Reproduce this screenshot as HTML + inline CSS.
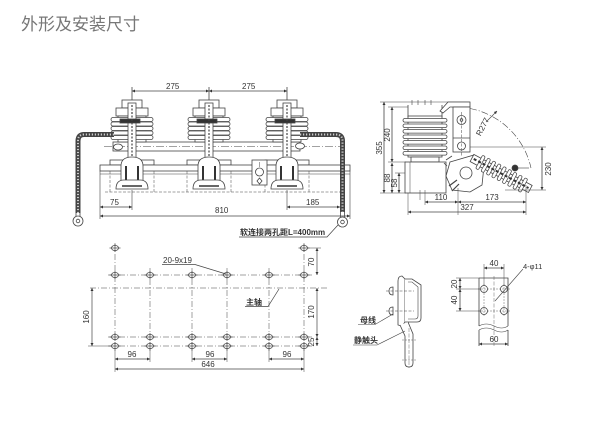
<!DOCTYPE html>
<html><head><meta charset="utf-8"><style>
html,body{margin:0;padding:0;background:#fff;}
svg{display:block;}
text{font-family:"Liberation Sans","Noto Sans CJK SC",sans-serif;fill:#333;}
</style></head><body>
<svg width="600" height="436" viewBox="0 0 600 436" xmlns="http://www.w3.org/2000/svg">
<defs>
<marker id="a" viewBox="0 0 10 10" refX="10" refY="5" markerUnits="userSpaceOnUse" markerWidth="5" markerHeight="3" orient="auto-start-reverse"><path d="M0 0L10 5L0 10z" fill="#333"/></marker>
<g id="pole" stroke="#444" stroke-width="0.8" fill="#fff">
 <rect x="-10" y="100" width="20" height="8"/>
 <rect x="-16" y="108" width="32" height="8"/>
 <rect x="-14" y="116" width="28" height="26"/>
 <rect x="-21" y="117.5" width="42" height="4" rx="2"/>
 <rect x="-21" y="122" width="42" height="4" rx="2"/>
 <rect x="-21" y="126.5" width="42" height="4" rx="2"/>
 <rect x="-21" y="131" width="42" height="4" rx="2"/>
 <rect x="-21" y="135.5" width="42" height="4" rx="2"/>
 <rect x="-4" y="103" width="8" height="56"/>
 <rect x="-12" y="119" width="20" height="4" fill="#333"/>
 <line x1="0" y1="105" x2="0" y2="156" stroke-dasharray="2 1.5" stroke-width="1.2"/>
 <path d="M-11 186V166Q-11 157 0 157Q11 157 11 166V186Z"/>
 <path d="M-6 184V166M6 184V166" stroke="#333" stroke-width="2" fill="none"/>
 <path d="M-16 189Q-16 180 -8 180H8Q16 180 16 189Z"/>
 <path d="M-10 186H10" stroke="#333" stroke-width="1.5"/>
</g>
<g id="h" stroke="#444" stroke-width="0.7" fill="#fff">
 <ellipse rx="3.6" ry="2.6"/>
 <line x1="-5.5" x2="5.5" y1="0" y2="0"/>
 <line x1="0" x2="0" y1="-4" y2="4"/>
</g>
</defs>

<!-- Title -->
<text x="21" y="30" font-size="17" style="fill:#777">外形及安装尺寸</text>

<g stroke="#444" stroke-width="0.8" fill="none">
<!-- ===== FRONT VIEW ===== -->
<!-- 275 dims -->
<line x1="132" y1="91" x2="209" y2="91" marker-start="url(#a)" marker-end="url(#a)"/>
<line x1="209" y1="91" x2="287" y2="91" marker-start="url(#a)" marker-end="url(#a)"/>
<line x1="132" y1="87" x2="132" y2="101"/>
<line x1="209" y1="87" x2="209" y2="101"/>
<line x1="287" y1="87" x2="287" y2="101"/>

<!-- frame -->
<rect x="110" y="160" width="44" height="5" fill="#fff"/>
<rect x="187" y="160" width="44" height="5" fill="#fff"/>
<rect x="265" y="160" width="44" height="5" fill="#fff"/>
<rect x="100" y="165" width="250" height="6" fill="#fff"/>
<line x1="100" y1="174" x2="350" y2="174" stroke-width="0.5"/>
<g stroke-width="0.5" stroke-dasharray="3 1.5">
<line x1="110" y1="171" x2="110" y2="192"/><line x1="154" y1="171" x2="154" y2="192"/>
<line x1="187" y1="171" x2="187" y2="192"/><line x1="231" y1="171" x2="231" y2="192"/>
<line x1="265" y1="171" x2="265" y2="192"/><line x1="309" y1="171" x2="309" y2="192"/>
<line x1="105" y1="192" x2="345" y2="192"/>
</g>

<!-- shaft -->
<rect x="113" y="142" width="187" height="9" fill="#fff"/>
<line x1="104" y1="146.5" x2="340" y2="146.5" stroke-width="0.5" stroke-dasharray="8 2 1 2"/>
</g>

<use href="#pole" x="132"/>
<use href="#pole" x="209"/>
<use href="#pole" x="287"/>

<g stroke="#444" stroke-width="0.8" fill="none">
<!-- mechanism box -->
<rect x="252" y="160" width="15" height="25" fill="#fff"/>
<circle cx="259.5" cy="172" r="4" fill="#fff"/>
<path d="M259.5 178L262 181L259.5 184L257 181Z"/>
<line x1="259.5" y1="162" x2="259.5" y2="167" stroke-width="0.5"/>

<!-- clamps -->
<ellipse cx="118" cy="147" rx="4.5" ry="3" fill="#fff"/>
<ellipse cx="300" cy="146" rx="4.5" ry="3" fill="#fff"/>

<!-- cables -->
<path d="M114 134.5H84Q78 134.5 78 141V213" stroke="#444" stroke-width="5"/>
<path d="M114 134.5H84Q78 134.5 78 141V213" stroke="#ccc" stroke-width="2" stroke-dasharray="1.2 1.8"/>
<path d="M300 134.5H336Q342.5 134.5 342.5 141V212" stroke="#444" stroke-width="5"/>
<path d="M300 134.5H336Q342.5 134.5 342.5 141V212" stroke="#ccc" stroke-width="2" stroke-dasharray="1.2 1.8"/>
<circle cx="78" cy="221" r="5" fill="#fff"/><circle cx="78" cy="221" r="1.8"/>
<line x1="76" y1="213" x2="76" y2="216"/><line x1="80" y1="213" x2="80" y2="216"/>
<circle cx="342.5" cy="222" r="5" fill="#fff"/><circle cx="342.5" cy="222" r="1.8"/>
<line x1="340.5" y1="212" x2="340.5" y2="217"/><line x1="344.5" y1="212" x2="344.5" y2="217"/>

<!-- bottom dims -->
<line x1="100" y1="171" x2="100" y2="219" stroke-width="0.6"/>
<line x1="350" y1="171" x2="350" y2="219" stroke-width="0.6"/>
<line x1="132" y1="190" x2="132" y2="210" stroke-width="0.6"/>
<line x1="287" y1="190" x2="287" y2="210" stroke-width="0.6"/>
<line x1="100" y1="207" x2="132" y2="207" marker-start="url(#a)" marker-end="url(#a)"/>
<line x1="287" y1="207" x2="340" y2="207" marker-start="url(#a)" marker-end="url(#a)"/>
<line x1="100" y1="216" x2="350" y2="216" marker-start="url(#a)" marker-end="url(#a)"/>
<path d="M239 237H327L338 225" stroke-width="0.7"/>
</g>
<text x="110" y="205" font-size="8">75</text>
<text x="306" y="205" font-size="8">185</text>
<text x="215" y="213" font-size="8">810</text>
<text x="166" y="89" font-size="8">275</text>
<text x="242" y="89" font-size="8">275</text>
<text x="240" y="235" font-size="8" font-weight="bold">软连接两孔距L=400mm</text>

<!-- ===== SIDE VIEW ===== -->
<g stroke="#444" stroke-width="0.8" fill="none">
<!-- dimension extension -->
<line x1="380" y1="102" x2="470" y2="102" stroke-width="0.5"/>
<line x1="388" y1="107" x2="408" y2="107" stroke-width="0.5"/>
<line x1="388" y1="162" x2="406" y2="162" stroke-width="0.5"/>
<line x1="395" y1="173" x2="406" y2="173" stroke-width="0.5"/>
<line x1="380" y1="193" x2="406" y2="193" stroke-width="0.5"/>
<line x1="384" y1="102" x2="384" y2="193" marker-start="url(#a)" marker-end="url(#a)"/>
<line x1="392" y1="107" x2="392" y2="162" marker-start="url(#a)" marker-end="url(#a)"/>
<line x1="392" y1="163" x2="392" y2="193" marker-start="url(#a)" marker-end="url(#a)"/>
<line x1="399" y1="173" x2="399" y2="193" marker-start="url(#a)" marker-end="url(#a)"/>

<!-- insulator -->
<line x1="408" y1="105" x2="408" y2="117"/><line x1="442" y1="105" x2="442" y2="117"/>
<path d="M412 100V105M418 100V105M425 100V105M431 100V105" stroke-width="0.6"/>
<rect x="408" y="116" width="34" height="41" fill="#fff"/>
<g fill="#fff">
<rect x="403" y="118.5" width="44" height="3.6" rx="1.8"/>
<rect x="403" y="124" width="44" height="3.6" rx="1.8"/>
<rect x="403" y="129.5" width="44" height="3.6" rx="1.8"/>
<rect x="403" y="135" width="44" height="3.6" rx="1.8"/>
<rect x="403" y="140.5" width="44" height="3.6" rx="1.8"/>
<rect x="403" y="146" width="44" height="3.6" rx="1.8"/>
<rect x="403" y="151.5" width="44" height="3.6" rx="1.8"/>
</g>
<rect x="411" y="157" width="28" height="5" fill="#fff"/>
<rect x="405" y="162" width="41" height="31" fill="#fff"/>
<line x1="410" y1="162" x2="410" y2="193" stroke-width="0.5"/>
<line x1="420" y1="190" x2="420" y2="200" stroke-width="0.5"/>

<!-- arm -->
<path d="M440 111L448 102H470V107H450L443 113Z" fill="#fff"/>
<rect x="453" y="107" width="17" height="45" fill="#fff"/>
<line x1="453" y1="138" x2="470" y2="138"/>
<circle cx="461.5" cy="120" r="4.5" fill="#fff"/><circle cx="461.5" cy="120" r="1.3"/>
<circle cx="461.5" cy="146" r="4" fill="#fff"/>
<line x1="461.5" y1="112" x2="461.5" y2="156" stroke-width="0.5" stroke-dasharray="3 1.5"/>

<!-- arc R277 -->
<path d="M470 108.5A77.5 77.5 0 0 1 531 168" stroke-width="0.6" stroke-dasharray="7 2 1 2"/>
<line x1="486" y1="122" x2="497" y2="111" stroke-width="0.6" marker-end="url(#a)"/>

<!-- mechanism -->
<path d="M450 162L474 155L484 166L482 185L470 192L452 190L446 176Z" fill="#fff"/>
<circle cx="466" cy="173" r="6" fill="#fff"/>
<path d="M449 186L457 180M452 191L459 184" stroke-width="1.2"/>
<path d="M446 160L452 156M447 166L444 163" stroke-width="0.8"/>

<!-- diagonal insulator -->
<g transform="translate(472,158) rotate(28)">
<rect x="0" y="-4" width="66" height="8" fill="#fff"/>
<g fill="#fff" stroke-width="0.7">
<rect x="8" y="-7.5" width="3.2" height="15" rx="1.5"/>
<rect x="14" y="-7.5" width="3.2" height="15" rx="1.5"/>
<rect x="20" y="-7.5" width="3.2" height="15" rx="1.5"/>
<rect x="26" y="-7.5" width="3.2" height="15" rx="1.5"/>
<rect x="32" y="-7.5" width="3.2" height="15" rx="1.5"/>
<rect x="38" y="-7.5" width="3.2" height="15" rx="1.5"/>
<rect x="44" y="-7.5" width="3.2" height="15" rx="1.5"/>
<rect x="50" y="-7.5" width="3.2" height="15" rx="1.5"/>
<rect x="56" y="-7.5" width="3.2" height="15" rx="1.5"/>
</g>
<line x1="2" y1="0" x2="64" y2="0" stroke="#333" stroke-width="2" stroke-dasharray="3 2"/>
</g>
<circle cx="515" cy="168" r="3" fill="#333"/>
<line x1="518" y1="168" x2="529" y2="168" stroke-width="0.6"/>

<!-- right dim 230 -->
<line x1="470" y1="147" x2="546" y2="147" stroke-width="0.5"/>
<line x1="505" y1="190" x2="546" y2="190" stroke-width="0.5"/>
<line x1="542" y1="147" x2="542" y2="190" marker-start="url(#a)" marker-end="url(#a)"/>

<!-- bottom dims -->
<line x1="425" y1="190" x2="425" y2="205" stroke-width="0.5"/>
<line x1="458" y1="188" x2="458" y2="215" stroke-width="0.5"/>
<line x1="526" y1="185" x2="526" y2="215" stroke-width="0.5"/>
<line x1="408" y1="193" x2="408" y2="215" stroke-width="0.5"/>
<line x1="425" y1="202" x2="458" y2="202" marker-start="url(#a)" marker-end="url(#a)"/>
<line x1="458" y1="202" x2="526" y2="202" marker-start="url(#a)" marker-end="url(#a)"/>
<line x1="408" y1="212" x2="526" y2="212" marker-start="url(#a)" marker-end="url(#a)"/>
</g>
<text font-size="8" text-anchor="middle" transform="translate(382,148) rotate(-90)">355</text>
<text font-size="8" text-anchor="middle" transform="translate(390,135) rotate(-90)">240</text>
<text font-size="8" text-anchor="middle" transform="translate(390,178) rotate(-90)">88</text>
<text font-size="8" text-anchor="middle" transform="translate(397,183) rotate(-90)">58</text>
<text font-size="8" text-anchor="middle" transform="translate(485,128) rotate(-62)">R277</text>
<text font-size="8" text-anchor="middle" transform="translate(551,169) rotate(-90)">230</text>
<text x="441" y="200" font-size="8" text-anchor="middle">110</text>
<text x="492" y="200" font-size="8" text-anchor="middle">173</text>
<text x="467" y="210" font-size="8" text-anchor="middle">327</text>

<!-- ===== PLAN (bottom-left) ===== -->
<g stroke="#444" stroke-width="0.5" fill="none" stroke-dasharray="6 2 1 2">
<line x1="115" y1="243" x2="115" y2="352"/>
<line x1="150" y1="268" x2="150" y2="352"/>
<line x1="192" y1="268" x2="192" y2="352"/>
<line x1="227" y1="268" x2="227" y2="352"/>
<line x1="269" y1="268" x2="269" y2="352"/>
<line x1="304" y1="243" x2="304" y2="352"/>
<line x1="108" y1="275" x2="312" y2="275"/>
<line x1="90" y1="288" x2="327" y2="288"/>
<line x1="108" y1="337" x2="312" y2="337"/>
<line x1="108" y1="346" x2="312" y2="346"/>
</g>
<use href="#h" x="115" y="248"/><use href="#h" x="304" y="248"/>
<use href="#h" x="115" y="275"/><use href="#h" x="150" y="275"/><use href="#h" x="192" y="275"/><use href="#h" x="227" y="275"/><use href="#h" x="269" y="275"/><use href="#h" x="304" y="275"/>
<use href="#h" x="115" y="337"/><use href="#h" x="150" y="337"/><use href="#h" x="192" y="337"/><use href="#h" x="227" y="337"/><use href="#h" x="269" y="337"/><use href="#h" x="304" y="337"/>
<use href="#h" x="115" y="346"/><use href="#h" x="150" y="346"/><use href="#h" x="192" y="346"/><use href="#h" x="227" y="346"/><use href="#h" x="269" y="346"/><use href="#h" x="304" y="346"/>
<g stroke="#444" stroke-width="0.7" fill="none">
<line x1="308" y1="248" x2="321" y2="248" stroke-width="0.5"/>
<line x1="317" y1="248" x2="317" y2="275" marker-start="url(#a)" marker-end="url(#a)"/>
<line x1="317" y1="288" x2="317" y2="337" marker-start="url(#a)" marker-end="url(#a)"/>
<line x1="317" y1="337" x2="317" y2="346" marker-start="url(#a)" marker-end="url(#a)"/>
<line x1="92" y1="288" x2="92" y2="346" marker-start="url(#a)" marker-end="url(#a)"/>
<line x1="88" y1="346" x2="110" y2="346" stroke-width="0.5"/>
<line x1="115" y1="350" x2="115" y2="372" stroke-width="0.5"/>
<line x1="150" y1="350" x2="150" y2="362" stroke-width="0.5"/>
<line x1="192" y1="350" x2="192" y2="362" stroke-width="0.5"/>
<line x1="227" y1="350" x2="227" y2="362" stroke-width="0.5"/>
<line x1="269" y1="350" x2="269" y2="362" stroke-width="0.5"/>
<line x1="304" y1="350" x2="304" y2="372" stroke-width="0.5"/>
<line x1="115" y1="359" x2="150" y2="359" marker-start="url(#a)" marker-end="url(#a)"/>
<line x1="192" y1="359" x2="227" y2="359" marker-start="url(#a)" marker-end="url(#a)"/>
<line x1="269" y1="359" x2="304" y2="359" marker-start="url(#a)" marker-end="url(#a)"/>
<line x1="115" y1="369" x2="304" y2="369" marker-start="url(#a)" marker-end="url(#a)"/>
<path d="M162 264.5H195L226 274"/>
<path d="M245 306.5H268L279 289"/>
</g>
<text font-size="8" text-anchor="middle" transform="translate(314,262) rotate(-90)">70</text>
<text font-size="8" text-anchor="middle" transform="translate(314,312) rotate(-90)">170</text>
<text font-size="8" text-anchor="middle" transform="translate(314,342) rotate(-90)">25</text>
<text font-size="8" text-anchor="middle" transform="translate(89,317) rotate(-90)">160</text>
<text x="132" y="357" font-size="8" text-anchor="middle">96</text>
<text x="210" y="357" font-size="8" text-anchor="middle">96</text>
<text x="287" y="357" font-size="8" text-anchor="middle">96</text>
<text x="208" y="367" font-size="8" text-anchor="middle">646</text>
<text x="163" y="263" font-size="8">20-9x19</text>
<text x="246" y="305" font-size="8" font-weight="bold">主轴</text>

<!-- ===== BRACKET (bottom-middle) ===== -->
<g stroke="#444" stroke-width="0.8" fill="none">
<path d="M398 325V281Q398 276 402 276L405 279V322L402 326Z" fill="#fff"/>
<path d="M405 279H412L421 285V318Q421 322 417 322H405" fill="#fff"/>
<path d="M408 282H412L418 287V316Q418 319 415 319H408" stroke-width="0.6"/>
<path d="M389 291Q389 287 393 287V295Q389 295 389 291Z" fill="#fff"/>
<path d="M389 311Q389 307 393 307V315Q389 315 389 311Z" fill="#fff"/>
<line x1="386" y1="291" x2="414" y2="291" stroke-width="0.5" stroke-dasharray="3 1.5"/>
<line x1="386" y1="311" x2="414" y2="311" stroke-width="0.5" stroke-dasharray="3 1.5"/>
<path d="M400 325L405 336V363Q405 367 409 367Q413 367 413 363V334L408 322" fill="#fff"/>
<line x1="409" y1="328" x2="409" y2="368" stroke-width="0.4" stroke-dasharray="4 1.5"/>
<line x1="402" y1="340" x2="416" y2="340" stroke-width="0.4" stroke-dasharray="2 1"/>
<line x1="402" y1="360" x2="416" y2="360" stroke-width="0.4" stroke-dasharray="2 1"/>
<path d="M358 324.5H375L393 314" stroke-width="0.6"/>
<path d="M353 345H377L405 331" stroke-width="0.6"/>
</g>
<text x="360" y="323" font-size="8" font-weight="bold">母线</text>
<text x="354" y="343" font-size="8" font-weight="bold">静触头</text>

<!-- ===== PLATE (bottom-right) ===== -->
<g stroke="#444" stroke-width="0.8" fill="none">
<path d="M479 278H508V326M479 278V326"/>
<path d="M479 330V346M508 330V346"/>
<path d="M479 326Q486 322 494 326T508 326" stroke-width="0.6"/>
<path d="M479 330Q486 326 494 330T508 330" stroke-width="0.6"/>
<line x1="494" y1="276" x2="494" y2="346" stroke-width="0.4" stroke-dasharray="4 1.5"/>
<circle cx="484" cy="289" r="3.5" fill="#fff"/><circle cx="504" cy="289" r="3.5" fill="#fff"/>
<circle cx="484" cy="311" r="3.5" fill="#fff"/><circle cx="504" cy="311" r="3.5" fill="#fff"/>
<g stroke-width="0.4" stroke-dasharray="2 1">
<line x1="478" y1="289" x2="510" y2="289"/><line x1="478" y1="311" x2="510" y2="311"/>
<line x1="484" y1="284" x2="484" y2="316"/><line x1="504" y1="284" x2="504" y2="316"/>
</g>
<line x1="484" y1="264" x2="484" y2="285" stroke-width="0.5"/>
<line x1="504" y1="264" x2="504" y2="285" stroke-width="0.5"/>
<line x1="484" y1="268" x2="504" y2="268" marker-start="url(#a)" marker-end="url(#a)"/>
<line x1="456" y1="278" x2="479" y2="278" stroke-width="0.5"/>
<line x1="456" y1="289" x2="480" y2="289" stroke-width="0.5"/>
<line x1="456" y1="311" x2="480" y2="311" stroke-width="0.5"/>
<line x1="460" y1="278" x2="460" y2="289" marker-start="url(#a)" marker-end="url(#a)"/>
<line x1="460" y1="289" x2="460" y2="311" marker-start="url(#a)" marker-end="url(#a)"/>
<line x1="479" y1="344" x2="508" y2="344" marker-start="url(#a)" marker-end="url(#a)"/>
<path d="M523 269L495 301" stroke-width="0.6"/>
</g>
<text x="494" y="266" font-size="8" text-anchor="middle">40</text>
<text font-size="8" text-anchor="middle" transform="translate(457,284) rotate(-90)">20</text>
<text font-size="8" text-anchor="middle" transform="translate(457,300) rotate(-90)">40</text>
<text x="494" y="342" font-size="8" text-anchor="middle">60</text>
<text x="523" y="269" font-size="7.5">4-φ11</text>
</svg>
</body></html>
